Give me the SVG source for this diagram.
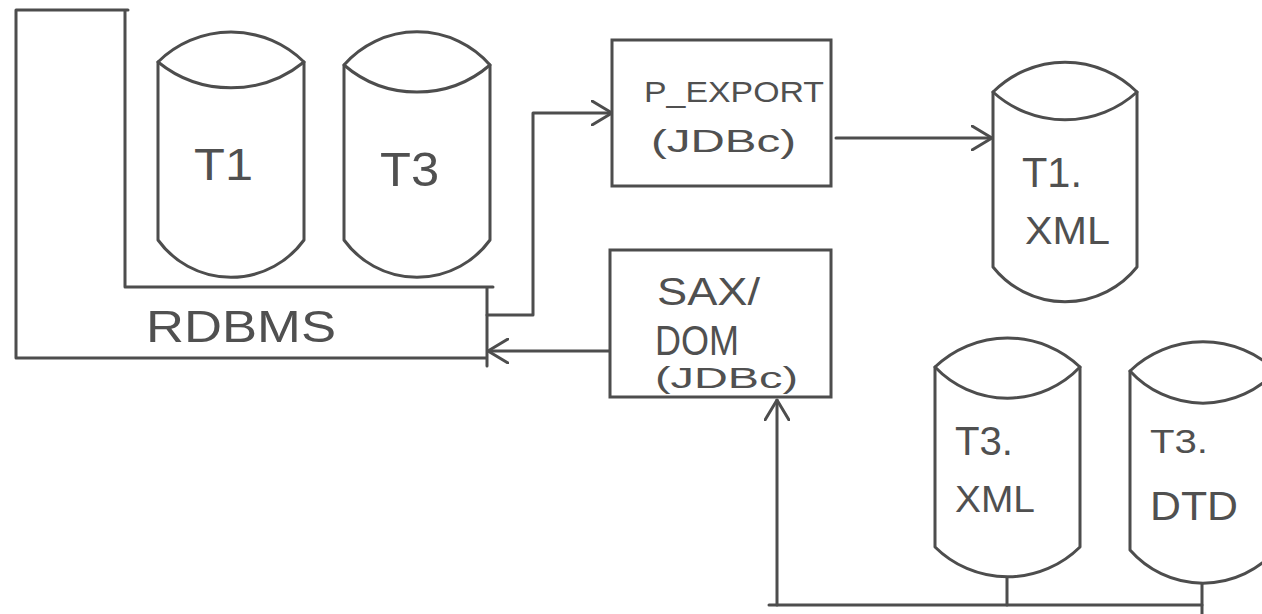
<svg xmlns="http://www.w3.org/2000/svg" width="1262" height="614" viewBox="0 0 1262 614">
  <style>
    .ln { fill: none; stroke: #4d4d4d; stroke-width: 3; stroke-linecap: round; stroke-linejoin: round; }
    .cyl { fill: #ffffff; stroke: #4d4d4d; stroke-width: 3; stroke-linejoin: round; }
    .box { fill: #ffffff; stroke: #4d4d4d; stroke-width: 3; }
    .lbl { font-family: "Liberation Sans", Arial, sans-serif; fill: #505050; }
  </style>
  <defs>
    <marker id="arr" viewBox="0 0 22 26" refX="21" refY="13" markerWidth="22" markerHeight="26" markerUnits="userSpaceOnUse" orient="auto">
      <path d="M1,1 L21,13 L1,25" fill="none" stroke="#4d4d4d" stroke-width="3" stroke-linecap="round" stroke-linejoin="round"/>
    </marker>
  </defs>
  <rect width="1262" height="614" fill="#ffffff"/>

  <g id="connectors">
    <polyline class="ln" points="487,315 533,315 533,113 612,113" marker-end="url(#arr)"/>
    <line class="ln" x1="610" y1="351" x2="488" y2="351" marker-end="url(#arr)"/>
    <line class="ln" x1="836" y1="138" x2="992" y2="138" marker-end="url(#arr)"/>
    <line class="ln" x1="769" y1="605" x2="1202" y2="605"/>
    <line class="ln" x1="777" y1="605" x2="777" y2="400" marker-end="url(#arr)"/>
    <line class="ln" x1="1007" y1="577" x2="1007" y2="605"/>
    <line class="ln" x1="1202" y1="583" x2="1202" y2="614"/>
  </g>

  <g id="rdbms">
    <path class="ln" d="M128,10 L16,10 L16,358 L487,358 M487,366 L487,287 M493,287 L125,287 L125,10"/>
    <text class="lbl" x="146" y="342" font-size="44" textLength="190" lengthAdjust="spacingAndGlyphs">RDBMS</text>
  </g>

  <g id="t1">
    <path class="cyl" d="M158,62 A104,104 0 0 1 304,62 L304,240 A90,90 0 0 1 158,240 Z"/>
    <path class="ln" d="M158,62 A116,116 0 0 0 304,62"/>
    <text class="lbl" x="194" y="180" font-size="44" textLength="59" lengthAdjust="spacingAndGlyphs">T1</text>
  </g>

  <g id="t3">
    <path class="cyl" d="M344,65 A97,97 0 0 1 490,65 L490,240 A90,90 0 0 1 344,240 Z"/>
    <path class="ln" d="M344,65 A112,112 0 0 0 490,65"/>
    <text class="lbl" x="380" y="186" font-size="48" textLength="59" lengthAdjust="spacingAndGlyphs">T3</text>
  </g>

  <g id="p_export">
    <rect class="box" x="612" y="40" width="219" height="146"/>
    <text class="lbl" x="644" y="102" font-size="30" textLength="180" lengthAdjust="spacingAndGlyphs">P_EXPORT</text>
    <text class="lbl" x="651" y="152" font-size="32" textLength="145" lengthAdjust="spacingAndGlyphs">(JDBc)</text>
  </g>

  <g id="sax_dom">
    <rect class="box" x="610" y="250" width="221" height="147"/>
    <text class="lbl" x="657" y="305" font-size="38" textLength="103" lengthAdjust="spacingAndGlyphs">SAX/</text>
    <text class="lbl" x="655" y="355" font-size="42" textLength="84" lengthAdjust="spacingAndGlyphs">DOM</text>
    <text class="lbl" x="655" y="388" font-size="30" textLength="143" lengthAdjust="spacingAndGlyphs">(JDBc)</text>
  </g>

  <g id="t1_xml">
    <path class="cyl" d="M993,92 A102,102 0 0 1 1137,92 L1137,267 A92,92 0 0 1 993,267 Z"/>
    <path class="ln" d="M993,92 A107,107 0 0 0 1137,92"/>
    <text class="lbl" x="1022" y="187" font-size="42" textLength="60" lengthAdjust="spacingAndGlyphs">T1.</text>
    <text class="lbl" x="1025" y="244" font-size="38" textLength="85" lengthAdjust="spacingAndGlyphs">XML</text>
  </g>

  <g id="t3_xml">
    <path class="cyl" d="M935,367 A105,105 0 0 1 1080,367 L1080,547 A103,103 0 0 1 935,547 Z"/>
    <path class="ln" d="M935,367 A100,100 0 0 0 1080,367"/>
    <text class="lbl" x="955" y="455" font-size="40" textLength="58" lengthAdjust="spacingAndGlyphs">T3.</text>
    <text class="lbl" x="955" y="512" font-size="36" textLength="80" lengthAdjust="spacingAndGlyphs">XML</text>
  </g>

  <g id="t3_dtd">
    <path class="cyl" d="M1130,371 A106,106 0 0 1 1276,371 L1276,550 A97,97 0 0 1 1130,550 Z"/>
    <path class="ln" d="M1130,371 A99,99 0 0 0 1276,371"/>
    <text class="lbl" x="1150" y="453" font-size="34" textLength="58" lengthAdjust="spacingAndGlyphs">T3.</text>
    <text class="lbl" x="1150" y="520" font-size="40" textLength="88" lengthAdjust="spacingAndGlyphs">DTD</text>
  </g>
</svg>
